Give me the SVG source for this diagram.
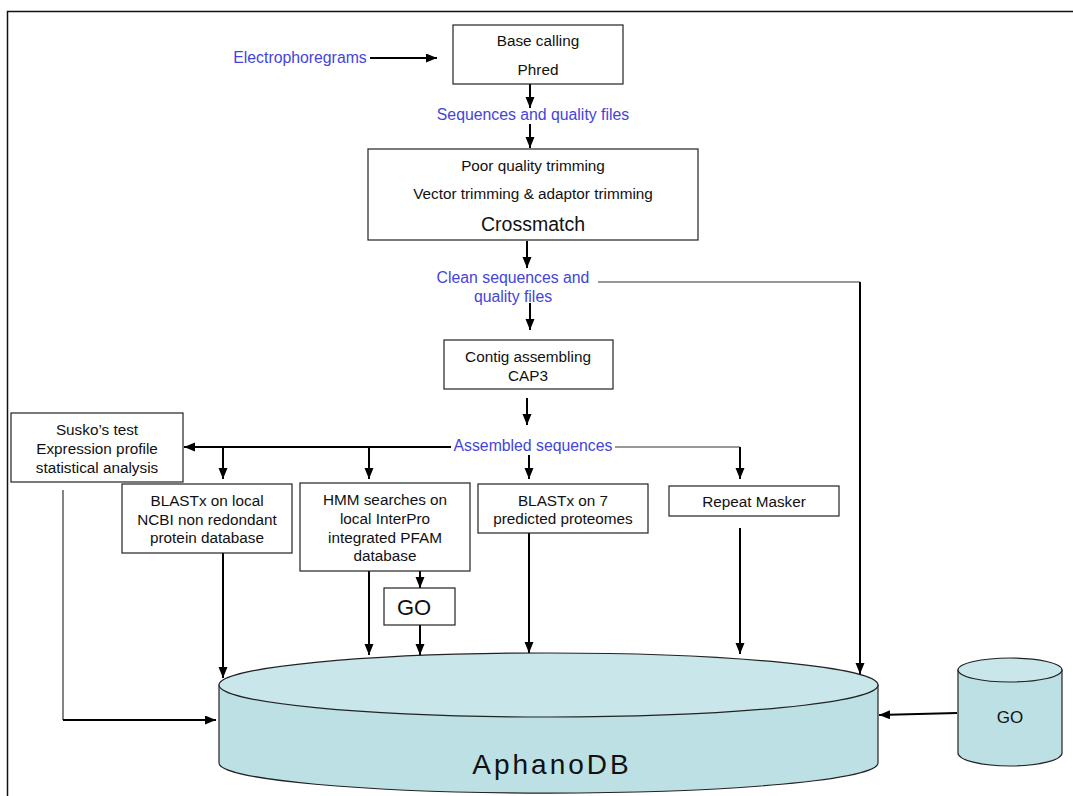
<svg xmlns="http://www.w3.org/2000/svg" width="1073" height="796" viewBox="0 0 1073 796">
<style>
text{font-family:"Liberation Sans",Arial,sans-serif;font-size:15.3px;fill:#111;text-anchor:middle}
.b{fill:#4444dd;font-size:15.8px}
.box{fill:#fff;stroke:#222;stroke-width:1.2}
.c{stroke:#000;stroke-width:2;fill:none}
.t{stroke:#333;stroke-width:1.2;fill:none}
.cyl{stroke:#222;stroke-width:1.2}
</style>
<defs>
<marker id="ah" markerUnits="userSpaceOnUse" markerWidth="12" markerHeight="10" refX="11" refY="4.5" orient="auto"><path d="M0,0 L11,4.5 L0,9 z" fill="#000"/></marker>
</defs>
<rect width="1073" height="796" fill="#fff"/>
<path d="M7.5,796 V11.5 H1073" fill="none" stroke="#111" stroke-width="1.5"/>

<g id="connectors">
<path class="c" d="M370,58 H437" marker-end="url(#ah)"/>
<path class="c" d="M530,84 V108" marker-end="url(#ah)"/>
<path class="c" d="M530,124 V148" marker-end="url(#ah)"/>
<path class="c" d="M527,241 V268" marker-end="url(#ah)"/>
<path class="t" d="M598,282 H860"/>
<path class="c" d="M860,282 V674" marker-end="url(#ah)"/>
<path class="c" d="M530,303 V330" marker-end="url(#ah)"/>
<path class="c" d="M527,398 V425" marker-end="url(#ah)"/>
<path class="c" d="M451,447 H184" marker-end="url(#ah)"/>
<path class="t" d="M615,447 H740"/>
<path class="c" d="M740,447 V479" marker-end="url(#ah)"/>
<path class="c" d="M223,447 V479" marker-end="url(#ah)"/>
<path class="c" d="M369,447 V479" marker-end="url(#ah)"/>
<path class="c" d="M529,455 V479" marker-end="url(#ah)"/>
<path class="c" d="M223,553 V678" marker-end="url(#ah)"/>
<path class="c" d="M369,571 V655" marker-end="url(#ah)"/>
<path class="c" d="M420,562 V588" marker-end="url(#ah)"/>
<path class="c" d="M420,625 V655" marker-end="url(#ah)"/>
<path class="c" d="M529,533 V653" marker-end="url(#ah)"/>
<path class="c" d="M740,528 V654" marker-end="url(#ah)"/>
<path class="t" d="M63,490 V720"/>
<path class="c" d="M63,720 H216" marker-end="url(#ah)"/>
<path class="c" d="M957,713 L879,715" marker-end="url(#ah)"/>
</g>

<g id="electrophoregrams"><text class="b" x="300" y="63">Electrophoregrams</text></g>
<g id="base-calling">
<rect class="box" x="453" y="25" width="170" height="59"/>
<text x="538" y="46">Base calling</text>
<text x="538" y="75">Phred</text>
</g>
<g id="seq-quality"><text class="b" x="533" y="120">Sequences and quality files</text></g>
<g id="crossmatch">
<rect class="box" x="368" y="149" width="330" height="91"/>
<text x="533" y="171">Poor quality trimming</text>
<text x="533" y="199">Vector trimming &amp; adaptor trimming</text>
<text x="533" y="231" style="font-size:19.5px">Crossmatch</text>
</g>
<g id="clean-seq">
<text class="b" x="513" y="283">Clean sequences and</text>
<text class="b" x="513" y="302">quality files</text>
</g>
<g id="contig">
<rect class="box" x="444" y="340" width="169" height="49"/>
<text x="528" y="362">Contig assembling</text>
<text x="528" y="381">CAP3</text>
</g>
<g id="assembled"><text class="b" x="533" y="451">Assembled sequences</text></g>
<g id="susko">
<rect class="box" x="11" y="413" width="172" height="69"/>
<text x="97" y="435">Susko’s test</text>
<text x="97" y="454">Expression profile</text>
<text x="97" y="473">statistical analysis</text>
</g>
<g id="blastx-ncbi">
<rect class="box" x="122" y="484" width="170" height="69"/>
<text x="207" y="506">BLASTx on local</text>
<text x="207" y="525">NCBI non redondant</text>
<text x="207" y="543">protein database</text>
</g>
<g id="hmm">
<rect class="box" x="300" y="483" width="170" height="88"/>
<text x="385" y="505">HMM searches on</text>
<text x="385" y="524">local InterPro</text>
<text x="385" y="543">integrated PFAM</text>
<text x="385" y="561">database</text>
</g>
<g id="go-box">
<rect class="box" x="384" y="588" width="71" height="37"/>
<text x="414" y="615" style="font-size:22px">GO</text>
</g>
<g id="blastx-7">
<rect class="box" x="478" y="484" width="170" height="49"/>
<text x="563" y="506">BLASTx on 7</text>
<text x="563" y="524">predicted proteomes</text>
</g>
<g id="repeat-masker">
<rect class="box" x="669" y="486" width="170" height="30"/>
<text x="754" y="507">Repeat Masker</text>
</g>
<g id="aphanodb">
<path class="cyl" d="M219,685 V763 A329,30 0 0 0 878,763 V685 Z" fill="#bce0e4"/>
<ellipse class="cyl" cx="548.5" cy="685" rx="329.5" ry="32" fill="#c9e7ea"/>
<text x="552" y="774" style="font-size:28px;letter-spacing:3px">AphanoDB</text>
</g>
<g id="go-db">
<path class="cyl" d="M958,670 V753 A52,13 0 0 0 1062,753 V670 Z" fill="#bce0e4"/>
<ellipse class="cyl" cx="1010" cy="670" rx="52" ry="12" fill="#c9e7ea"/>
<text x="1010" y="723" style="font-size:17px">GO</text>
</g>
</svg>
